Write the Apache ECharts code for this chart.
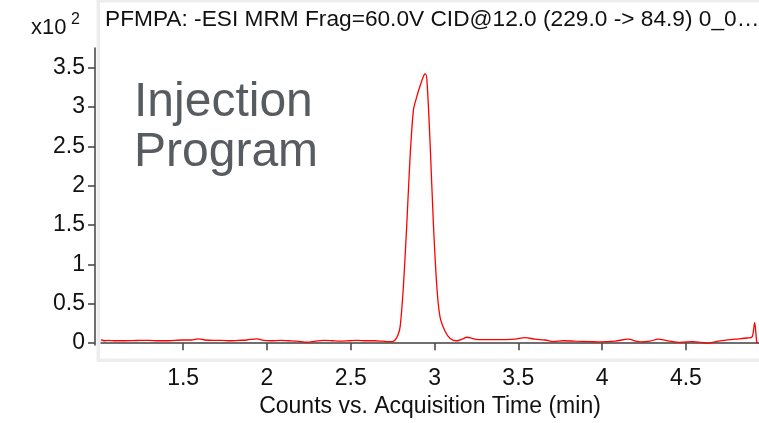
<!DOCTYPE html>
<html><head><meta charset="utf-8">
<script src="https://cdn.jsdelivr.net/npm/echarts@6/dist/echarts.min.js"></script>
<style>html,body{margin:0;padding:0;background:#fff}#c{width:759px;height:423px}</style>
</head><body><div id="c"></div>
<script>
// Acquisition time (min)
const times = [
  1.01,1.03,1.05,1.10,1.15,1.20,1.25,1.30,1.35,1.40,1.45,1.50,1.55,1.59,1.63,1.68,1.73,1.78,1.83,1.88,
  1.94,1.98,2.03,2.08,2.13,2.18,2.24,2.29,2.34,2.39,2.44,2.49,2.54,2.59,2.64,2.69,2.73,
  2.747,2.765,2.783,2.795,2.814,2.835,2.854,2.874,2.890,2.914,2.938,2.947,2.956,2.974,2.993,3.014,3.033,3.063,3.093,3.133,
  3.165,3.194,3.224,3.26,3.332,3.421,3.481,3.54,3.60,3.66,3.708,3.767,3.839,3.928,3.988,4.078,4.155,4.227,4.286,4.334,
  4.394,4.466,4.543,4.626,4.704,4.794,4.865,4.895,4.910,4.923,4.931
];
// Counts (x10^2)
const counts = [
  0.045,0.03,0.035,0.03,0.03,0.032,0.035,0.035,0.03,0.03,0.035,0.04,0.04,0.055,0.04,0.035,0.035,0.03,0.035,0.04,
  0.055,0.035,0.03,0.035,0.03,0.025,0.012,0.025,0.035,0.03,0.025,0.03,0.035,0.03,0.03,0.025,0.02,
  0.02,0.04,0.11,0.21,0.71,1.53,2.36,2.96,3.10,3.27,3.41,3.42,3.30,2.52,1.53,0.71,0.33,0.15,0.06,0.03,
  0.05,0.075,0.06,0.045,0.045,0.045,0.05,0.07,0.05,0.04,0.02,0.03,0.025,0.02,0.015,0.025,0.05,0.015,0.025,0.05,
  0.03,0.01,0.02,0.0,0.03,0.05,0.065,0.08,0.26,0.01,0.0
];
const xTicks = [1.5, 2, 2.5, 3, 3.5, 4, 4.5];
const yTicks = [0, 0.5, 1, 1.5, 2, 2.5, 3, 3.5];
const titleText = 'PFMPA: -ESI MRM Frag=60.0V CID@12.0 (229.0 -> 84.9) 0_0\u2026';
const xAxisName = 'Counts vs. Acquisition Time (min)';
const noteLines = ['Injection', 'Program'];

const FONT = 'Liberation Sans, Arial, Helvetica, sans-serif';
const chart = echarts.init(document.getElementById('c'), null, {renderer: 'canvas'});
chart.setOption({
  animation: false,
  backgroundColor: '#ffffff',
  grid: {left: 101, right: 0, top: 48, bottom: 71, containLabel: false},
  xAxis: {
    type: 'value', min: 1.01, max: 4.936, offset: 11,
    axisLine: {show: true, lineStyle: {color: '#404040', width: 1.5}},
    axisTick: {show: true, length: 7, customValues: xTicks, lineStyle: {color: '#404040', width: 1.5}},
    axisLabel: {customValues: xTicks, fontSize: 23, fontFamily: FONT, color: '#111', margin: 11},
    splitLine: {show: false},
    name: xAxisName, nameLocation: 'middle', nameGap: 37,
    nameTextStyle: {fontSize: 23, fontFamily: FONT, color: '#111'}
  },
  yAxis: {
    type: 'value', min: -0.025, max: 3.75, offset: 6,
    axisLine: {show: true, lineStyle: {color: '#404040', width: 1.5}},
    axisTick: {show: true, length: 7, customValues: yTicks, lineStyle: {color: '#404040', width: 1.5}},
    axisLabel: {customValues: yTicks, fontSize: 23, fontFamily: FONT, color: '#111', margin: 10, padding: [0, 0, 4, 0]},
    splitLine: {show: false}
  },
  graphic: [
    {type: 'rect', z: -1, shape: {x: 98.3, y: 0.8, width: 680, height: 359.5},
     style: {fill: 'none', stroke: '#ededed', lineWidth: 3.5}},
    {type: 'text', style: {text: titleText, x: 105, y: 20, font: '22.7px ' + FONT, fill: '#111', verticalAlign: 'middle'}},
    {type: 'text', style: {text: 'x10', x: 31, y: 28, font: '22px ' + FONT, fill: '#111', verticalAlign: 'middle'}},
    {type: 'text', style: {text: '2', x: 71, y: 19.5, font: '16px ' + FONT, fill: '#111', verticalAlign: 'middle'}},
    {type: 'text', style: {text: noteLines[0], x: 134, y: 103, font: '48px ' + FONT, fill: '#585c61', verticalAlign: 'middle'}},
    {type: 'text', style: {text: noteLines[1], x: 134, y: 153, font: '48px ' + FONT, fill: '#585c61', verticalAlign: 'middle'}}
  ],
  series: [{
    type: 'line', data: times.map((t, i) => [t, counts[i]]),
    showSymbol: false, smooth: 0.3, clip: true,
    lineStyle: {color: '#ff0000', width: 1.3}
  }]
});
</script></body></html>
